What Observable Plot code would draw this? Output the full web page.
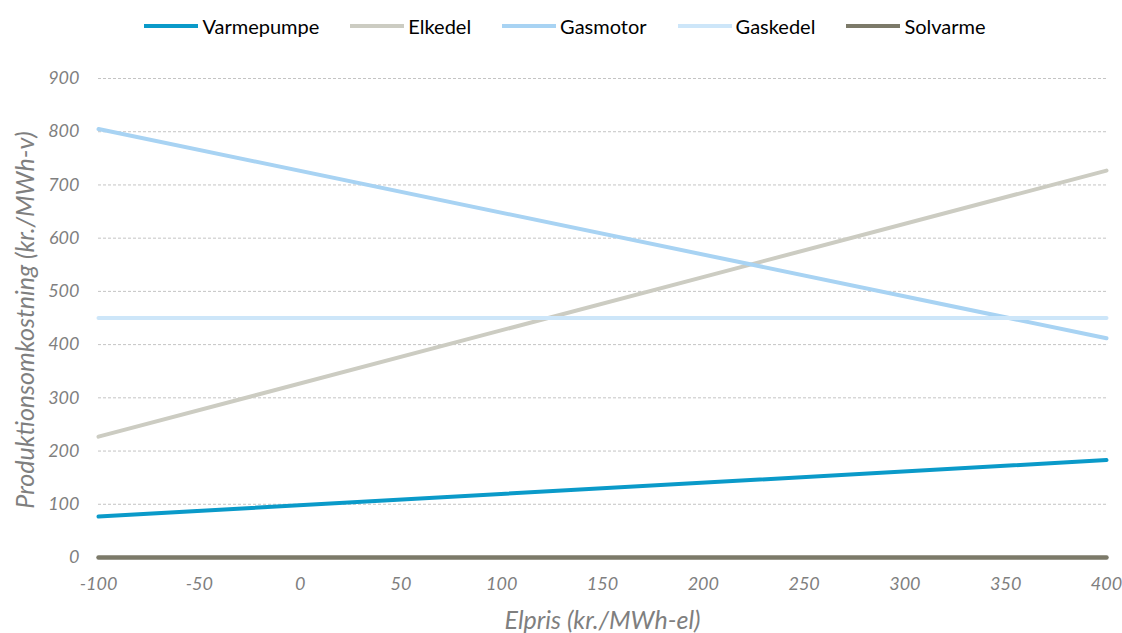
<!DOCTYPE html>
<html>
<head>
<meta charset="utf-8">
<script src="https://cdn.jsdelivr.net/npm/d3@7"></script>
<script src="https://cdn.jsdelivr.net/npm/@observablehq/plot@0.6"></script>
<style>
  html, body { margin: 0; padding: 0; background: #fff; }
  #legend { display: flex; justify-content: center; align-items: center; gap: 31px; height: 52px; font-family: Lato, "Open Sans", sans-serif; font-size: 20px; color: #000; padding-left: 8px; }
  .item { display: flex; align-items: center; gap: 4px; }
  .swatch { width: 54px; height: 4px; }
</style>
</head>
<body>
<div id="legend"></div>
<div id="chart"></div>
<script>
const series = ["Varmepumpe", "Elkedel", "Gasmotor", "Gaskedel", "Solvarme"];
const colors = ["#0A9AC9", "#CCCCC2", "#A8D3F3", "#CDE6F9", "#7C7A69"];
const elpris = [-100, 400];
const varmepumpe = [77, 183];
const elkedel = [227, 727];
const gasmotor = [805, 412];
const gaskedel = [450, 450];
const solvarme = [0, 0];
const xTicks = [-100, -50, 0, 50, 100, 150, 200, 250, 300, 350, 400];
const yTicks = [0, 100, 200, 300, 400, 500, 600, 700, 800, 900];
const xLabel = "Elpris (kr./MWh-el)";
const yLabel = "Produktionsomkostning (kr./MWh-v)";

const values = [varmepumpe, elkedel, gasmotor, gaskedel, solvarme];
const rows = [];
series.forEach((s, i) => elpris.forEach((x, j) => rows.push({serie: s, x, y: values[i][j]})));

const legend = document.getElementById("legend");
series.forEach((s, i) => {
  const it = document.createElement("div");
  it.className = "item";
  it.innerHTML = `<div class="swatch" style="background:${colors[i]}"></div><span>${s}</span>`;
  legend.appendChild(it);
});

const chart = Plot.plot({
  width: 1122,
  height: 581,
  marginTop: 26,
  marginBottom: 76,
  marginLeft: 98,
  marginRight: 16,
  style: { fontFamily: "Lato, 'Open Sans', sans-serif", fontStyle: "italic", fontSize: "18px", color: "#7f7f7f", background: "#fff" },
  x: { domain: [-100, 400] },
  y: { domain: [0, 900] },
  color: { domain: series, range: colors },
  marks: [
    Plot.gridY(yTicks.filter(d => d > 0), { stroke: "#c4c4c4", strokeOpacity: 1, strokeDasharray: "3,2" }),
    Plot.axisX(xTicks, { tickSize: 0, tickPadding: 20, label: null, fontSize: 18, tickFormat: d => String(d) }),
    Plot.axisY(yTicks, { tickSize: 0, tickPadding: 19, label: null, fontSize: 18, tickFormat: d => String(d) }),
    ...series.map((s, i) => Plot.line(rows.filter(r => r.serie === s), { x: "x", y: "y", stroke: colors[i], strokeWidth: i === 4 ? 4.5 : 4 })),
    Plot.text([xLabel], { frameAnchor: "bottom", lineAnchor: "middle", dy: 63, fontSize: 25, fill: "#7f7f7f" }),
    Plot.text([yLabel], { frameAnchor: "left", textAnchor: "middle", lineAnchor: "middle", rotate: -90, dx: -73, dy: 2, fontSize: 25, fill: "#7f7f7f" })
  ]
});
document.getElementById("chart").appendChild(chart);
</script>
</body>
</html>
